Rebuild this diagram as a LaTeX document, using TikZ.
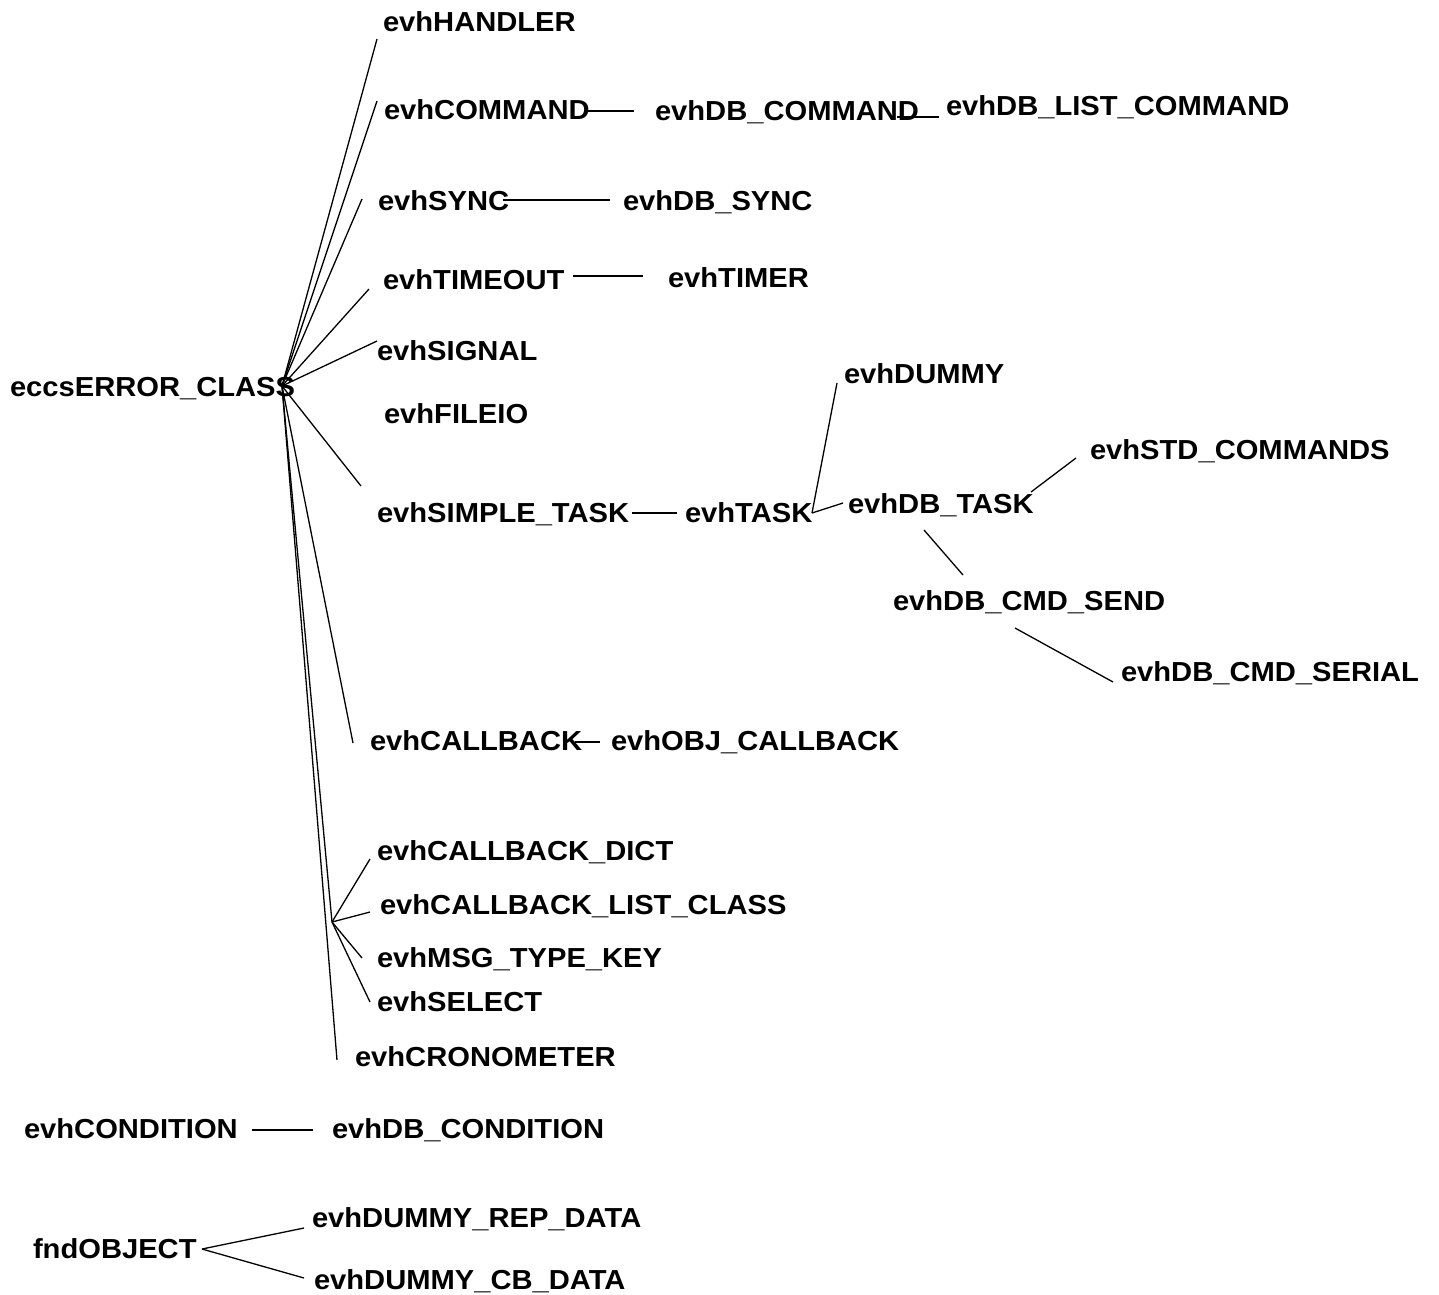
\documentclass[tikz,border=0pt]{standalone}
\usepackage{fontspec}
\newfontfamily\lblfont{Liberation Sans}[FakeStretch=1.06]
\begin{document}
\begin{tikzpicture}[x=1pt,y=-1pt,
  cls/.style={anchor=base west,inner sep=0pt,outer sep=0pt,
    font=\lblfont\bfseries\fontsize{27.5}{31}\selectfont},
  link/.style={draw=black,line width=1.3pt}]
\useasboundingbox[fill=white] (0,0) rectangle (1439,1294);

% class names
\node[cls] (hand)   at (383,31)   {evhHANDLER};
\node[cls] (cmd)    at (384,119)  {evhCOMMAND};
\node[cls] (dbcmd)  at (655,120)  {evhDB\_COMMAND};
\node[cls] (dblist) at (946,115)  {evhDB\_LIST\_COMMAND};
\node[cls] (sync)   at (378,210)  {evhSYNC};
\node[cls] (dbsync) at (623,210)  {evhDB\_SYNC};
\node[cls] (tmo)    at (383,289)  {evhTIMEOUT};
\node[cls] (timer)  at (668,287)  {evhTIMER};
\node[cls] (sig)    at (377,360)  {evhSIGNAL};
\node[cls] (ecc)    at (10,396)   {eccsERROR\_CLASS};
\node[cls] (fileio) at (384,423)  {evhFILEIO};
\node[cls] (dummy)  at (844,383)  {evhDUMMY};
\node[cls] (std)    at (1090,459) {evhSTD\_COMMANDS};
\node[cls] (simple) at (377,522)  {evhSIMPLE\_TASK};
\node[cls] (task)   at (685,522)  {evhTASK};
\node[cls] (dbtask) at (848,513)  {evhDB\_TASK};
\node[cls] (send)   at (893,610)  {evhDB\_CMD\_SEND};
\node[cls] (serial) at (1121,681) {evhDB\_CMD\_SERIAL};
\node[cls] (cb)     at (370,750)  {evhCALLBACK};
\node[cls] (objcb)  at (611,750)  {evhOBJ\_CALLBACK};
\node[cls] (cbdict) at (377,860)  {evhCALLBACK\_DICT};
\node[cls] (cblist) at (380,914)  {evhCALLBACK\_LIST\_CLASS};
\node[cls] (msg)    at (377,967)  {evhMSG\_TYPE\_KEY};
\node[cls] (sel)    at (377,1011) {evhSELECT};
\node[cls] (cron)   at (355,1066) {evhCRONOMETER};
\node[cls] (cond)   at (24,1138)  {evhCONDITION};
\node[cls] (dbcond) at (332,1138) {evhDB\_CONDITION};
\node[cls] (fnd)    at (33,1258)  {fndOBJECT};
\node[cls] (rep)    at (312,1227) {evhDUMMY\_REP\_DATA};
\node[cls] (cbdata) at (314,1289) {evhDUMMY\_CB\_DATA};

% branching points and line ends
\coordinate (hub) at (282,386);
\coordinate (sub) at (332,922);
\coordinate (hand-e)   at (377,39);
\coordinate (cmd-e)    at (377,101);
\coordinate (sync-e)   at (362,199);
\coordinate (tmo-e)    at (369,289);
\coordinate (sig-e)    at (377,341);
\coordinate (simple-e) at (361,486);
\coordinate (cb-e)     at (353,743);
\coordinate (cron-e)   at (337,1060);
\coordinate (cbdict-e) at (370,859);
\coordinate (cblist-e) at (370,912);
\coordinate (msg-e)    at (362,958);
\coordinate (sel-e)    at (370,1002);
\coordinate (cmd-s)    at (587,111);
\coordinate (dbcmd-e)  at (634,111);
\coordinate (dbcmd-s)  at (897,117);
\coordinate (dblist-e) at (939,117);
\coordinate (sync-s)   at (503,200);
\coordinate (dbsync-e) at (610,200);
\coordinate (tmo-s)    at (573,276);
\coordinate (timer-e)  at (643,276);
\coordinate (simple-s) at (632,513);
\coordinate (task-e)   at (677,513);
\coordinate (task-s)   at (812,513);
\coordinate (dummy-e)  at (837,383);
\coordinate (dbtask-e) at (843,503);
\coordinate (dbtask-s) at (1031,492);
\coordinate (std-e)    at (1076,458);
\coordinate (dbtask-b) at (924,530);
\coordinate (send-e)   at (963,575);
\coordinate (send-s)   at (1015,628);
\coordinate (serial-e) at (1113,682);
\coordinate (cb-s)     at (575,742);
\coordinate (objcb-e)  at (600,742);
\coordinate (cond-s)   at (252,1130);
\coordinate (dbcond-e) at (313,1130);
\coordinate (fnd-s)    at (202,1249);
\coordinate (rep-e)    at (304,1228);
\coordinate (cbdata-e) at (304,1278);

% fan out of eccsERROR_CLASS
\foreach \t in {hand,cmd,sync,tmo,sig,simple,cb,cron}
  \draw[link] (hub) -- (\t-e);
\draw[link] (hub) -- (sub);
\foreach \t in {cbdict,cblist,msg,sel}
  \draw[link] (sub) -- (\t-e);

% other inheritance links
\draw[link] (cmd-s) -- (dbcmd-e);
\draw[link] (dbcmd-s) -- (dblist-e);
\draw[link] (sync-s) -- (dbsync-e);
\draw[link] (tmo-s) -- (timer-e);
\draw[link] (simple-s) -- (task-e);
\draw[link] (task-s) -- (dummy-e);
\draw[link] (task-s) -- (dbtask-e);
\draw[link] (dbtask-s) -- (std-e);
\draw[link] (dbtask-b) -- (send-e);
\draw[link] (send-s) -- (serial-e);
\draw[link] (cb-s) -- (objcb-e);
\draw[link] (cond-s) -- (dbcond-e);
\draw[link] (fnd-s) -- (rep-e);
\draw[link] (fnd-s) -- (cbdata-e);
\end{tikzpicture}
\end{document}
